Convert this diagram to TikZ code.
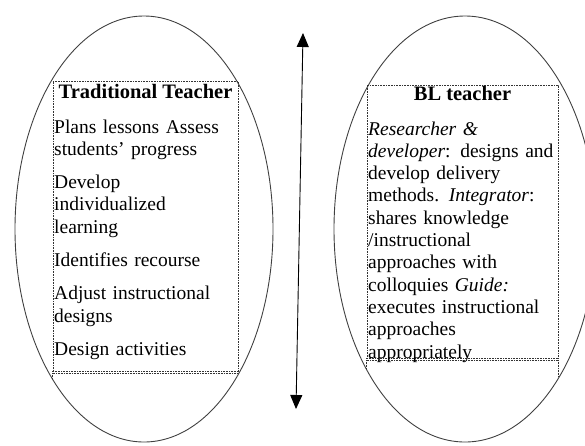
\documentclass[tikz,border=0pt]{standalone}
\usepackage{fontspec}
\setmainfont{Liberation Serif}
\usetikzlibrary{arrows.meta,positioning}

\tikzset{
  oval/.style={draw=black!75, line width=0.9pt},
  textframe/.style={draw=black!80, line width=0.6pt, dash pattern=on 0.8pt off 0.8pt, inner sep=0pt},
  boxtitle/.style={inner sep=0pt, font=\fontsize{20.5}{22.3}\selectfont\bfseries},
  boxtext/.style={inner sep=0pt, text width=200pt, align=left, font=\fontsize{19.5}{22.3}\selectfont},
}

\begin{document}
\begin{tikzpicture}[x=1pt,y=-1pt]
      \useasboundingbox (0,0) rectangle (585,445);

      \draw[oval] (144,229) ellipse [x radius=129, y radius=213];
      \draw[oval] (465,229) ellipse [x radius=131, y radius=213];

      \node[textframe, minimum width=185pt, minimum height=290pt] (tradbox) at (145.5,226) {};
      \node[textframe, minimum width=191pt, minimum height=273pt] (blbox) at (462.5,221.5) {};
      \draw[textframe] ([yshift=-1.6pt]tradbox.south west) -- ([yshift=-1.6pt]tradbox.south east);
      \draw[textframe] ([yshift=-1.6pt]blbox.south west) -- ([yshift=-1.6pt]blbox.south east);

      % frame sides run on down to the ovals
      \begin{scope}
        \clip (144,229) ellipse [x radius=129, y radius=213];
        \draw[textframe] (tradbox.south west) -- ++(0,30);
        \draw[textframe] (tradbox.south east) -- ++(0,30);
      \end{scope}
      \begin{scope}
        \clip (465,229) ellipse [x radius=131, y radius=213];
        \draw[textframe] (blbox.south west) -- ++(0,30);
        \draw[textframe] (blbox.south east) -- ++(0,30);
      \end{scope}

      \node[boxtitle, anchor=base] (tradtitle) at (145.5,98) {Traditional Teacher};
      \node[boxtitle, anchor=base] (bltitle) at (462.5,100) {BL teacher};

      \node[boxtext, anchor=base west] (tradlist) at (54,133) {Plans lessons Assess\\ students’ progress\\[11pt]
        Develop\\ individualized\\ learning\\[11pt] Identifies recourse\\[11pt]
        Adjust instructional\\ designs\\[11pt] Design activities};
      \node[boxtext, anchor=base west] (bllist) at (368,135) {\textit{Researcher \&}\\
        \textit{developer}: designs and\\ develop delivery\\ methods. \textit{Integrator}:\\
        shares knowledge\\ /instructional\\ approaches with\\ colloquies \textit{Guide:}\\
        executes instructional\\ approaches\\ appropriately};

      \coordinate (up) at (303,33);
      \coordinate (down) at (296,409);
      \draw[{Triangle[length=14pt,width=12pt]}-{Triangle[length=14pt,width=12pt]}, line width=0.9pt] (up) -- (down);
\end{tikzpicture}
\end{document}
